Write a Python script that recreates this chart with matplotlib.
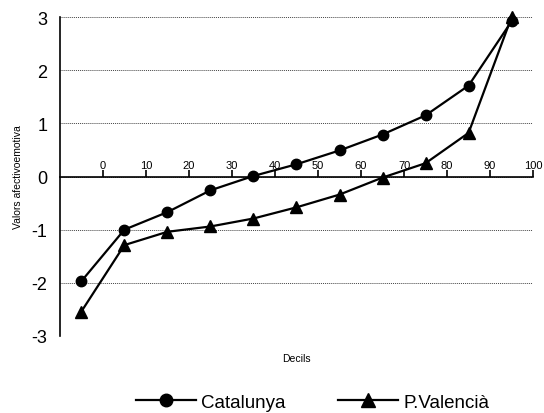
import matplotlib
matplotlib.use("Agg")
import matplotlib.pyplot as plt

# decile midpoints and mean values
decils = [-5, 5, 15, 25, 35, 45, 55, 65, 75, 85, 95]
catalunya = [-1.97, -1.0, -0.67, -0.26, 0.01, 0.23, 0.49, 0.79, 1.15, 1.71, 2.92]
valencia = [-2.54, -1.29, -1.04, -0.94, -0.79, -0.58, -0.34, -0.02, 0.25, 0.82, 3.0]
xticks = list(range(0, 101, 10))
yticks = [-3, -2, -1, 0, 1, 2, 3]

plt.rcParams['font.family'] = ['Liberation Sans', 'DejaVu Sans']

fig = plt.figure(figsize=(5.44, 4.14), dpi=100)
ax = fig.add_axes([0.110, 0.186, 0.870, 0.7705])

ax.set_xlim(-10, 100)
ax.set_ylim(-3, 3)

for y in yticks:
    ax.axhline(y, color='#444444', lw=0.7, ls=(0, (1, 1)), zorder=1)

ax.plot(decils, catalunya, color='black', lw=1.6, marker='o', ms=7.5,
        label='Catalunya', clip_on=False, zorder=3)
ax.plot(decils, valencia, color='black', lw=1.6, marker='^', ms=8,
        label='P.Valencià', clip_on=False, zorder=3)

ax.spines['top'].set_visible(False)
ax.spines['right'].set_visible(False)
ax.spines['bottom'].set_position(('data', 0))
ax.spines['bottom'].set_linewidth(1.2)
ax.spines['left'].set_linewidth(1.2)

ax.set_xticks(xticks)
ax.set_xticklabels([str(t) for t in xticks])
ax.tick_params(axis='x', direction='in', length=5, width=1.2, labelsize=8, pad=-5)
plt.setp(ax.get_xticklabels(), va='bottom')

ax.set_yticks(yticks)
ax.set_yticklabels([str(t) for t in yticks])
ax.tick_params(axis='y', length=0, labelsize=13, pad=9)

ax.set_ylabel('Valors afectivoemotiva', fontsize=7.5, labelpad=6)
ax.text(0.5, -0.07, 'Decils', transform=ax.transAxes, ha='center', va='center', fontsize=7.5)

leg = fig.legend(loc='center', bbox_to_anchor=(0.575, 0.026), ncol=2, frameon=False,
                 fontsize=13.5, handlelength=3.2, columnspacing=2.8, handletextpad=0.3,
                 markerscale=1.2, borderpad=0.0)

fig.savefig('out.png', dpi=100)
